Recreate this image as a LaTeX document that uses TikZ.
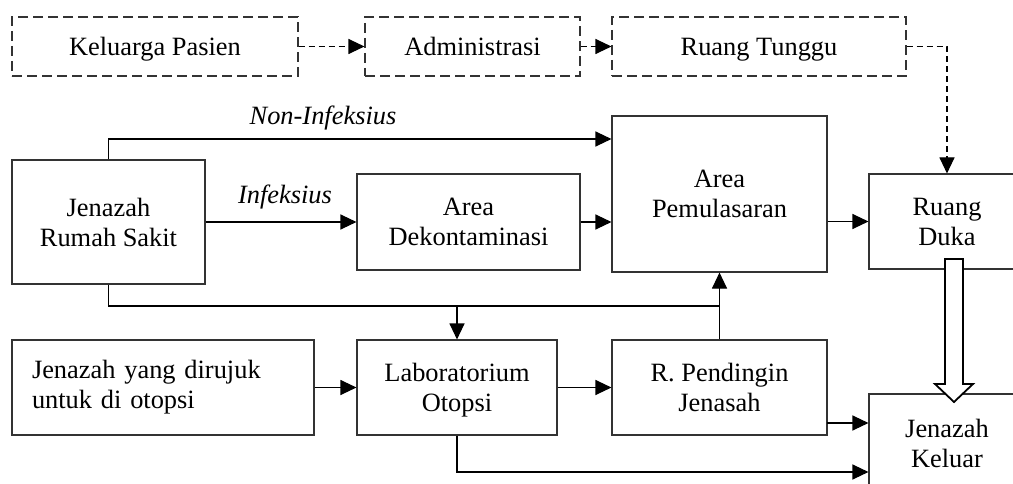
\documentclass[tikz,border=0pt]{standalone}
\usepackage{fontspec}
\setmainfont{Liberation Serif}
\usetikzlibrary{arrows.meta,calc}
\begin{document}
\begin{tikzpicture}[x=1pt,y=-1pt,
  font=\fontsize{26.4}{30}\selectfont,
  basebox/.style={draw=black!80,line width=1.1pt,align=center,inner sep=0pt},
  box/.style={basebox,text depth=0pt},
  dbox/.style={box,dash pattern=on 10pt off 5pt},
  conn/.style={draw=black,line width=1.1pt},
  arr/.style={conn,-{Triangle[length=16pt,width=15pt]}},
  darr/.style={arr,dash pattern=on 6pt off 4pt},
  lbl/.style={font=\fontsize{26.4}{30}\selectfont\itshape,inner sep=0pt}]
\path[use as bounding box,clip] (0,0) rectangle (1013,484);
% top row
\node[dbox,minimum width=286pt,minimum height=59pt] (kp) at (155,46.5) {Keluarga Pasien};
\node[dbox,minimum width=215pt,minimum height=59pt] (adm) at (472.5,46.5) {Administrasi};
\node[dbox,minimum width=294pt,minimum height=59pt] (rt) at (759,46.5) {Ruang Tunggu};
% middle row
\node[box,minimum width=193pt,minimum height=124pt] (rs) at (108.5,222) {Jenazah\\Rumah Sakit};
\node[box,minimum width=223pt,minimum height=96pt] (dek) at (468.5,222) {Area\\Dekontaminasi};
\node[box,minimum width=215pt,minimum height=156pt] (pem) at (719.5,194) {Area\\Pemulasaran};
\node[box,minimum width=156pt,minimum height=95pt] (duka) at (947,221.5) {Ruang\\Duka};
% bottom row
\node[basebox,minimum width=302pt,minimum height=95pt,text width=262pt,align=left] (dir) at (163,387.5) {Jenazah yang dirujuk\\untuk di otopsi};
\node[box,minimum width=200pt,minimum height=95pt] (lab) at (457,387.5) {Laboratorium\\Otopsi};
\node[box,minimum width=215pt,minimum height=95pt] (pend) at (719.5,387.5) {R. Pendingin\\Jenasah};
\node[box,minimum width=156pt,minimum height=98pt] (kel) at (947,443) {Jenazah\\Keluar};
% labels
\node[lbl] (lni) at (323,118) {Non-Infeksius};
\node[lbl] (linf) at (285,197) {Infeksius};
% coordinates
\coordinate (ni) at (108.5,139);
\coordinate (bj) at (108.5,306);
\coordinate (bl) at (457,306);
\coordinate (bp) at (719.5,306);
\coordinate (pk) at (827,423);
\coordinate (lk) at (457,472);
% dashed connectors
\draw[darr] (kp.east) -- (adm.west);
\draw[darr] (adm.east) -- (rt.west);
\draw[darr] (rt.east) -- (rt.east -| duka.north) -- (duka.north);
% solid connectors
\draw[arr] (rs.north) -- (ni) -- (ni -| pem.west);
\draw[arr] (rs.east) -- (dek.west);
\draw[arr] (dek.east) -- (dek.east -| pem.west);
\draw[arr] (duka.west -| pem.east) -- (duka.west);
\draw[arr] (rs.south) -- (bj) -- (bp) -- (pem.south);
\draw[arr] (bl) -- (lab.north);
\draw[conn] (pend.north) -- (bp);
\draw[arr] (dir.east) -- (lab.west);
\draw[arr] (lab.east) -- (pend.west);
\draw[arr] (pk) -- (pk -| kel.west);
\draw[arr] (lab.south) -- (lk) -- (lk -| kel.west);
% hollow arrow
\draw[line width=1.8pt,fill=white,line join=miter]
  (945,259) -- (963,259) -- (963,384) -- (973,384) -- (954,402) -- (935,384) -- (945,384) -- cycle;
\end{tikzpicture}
\end{document}
